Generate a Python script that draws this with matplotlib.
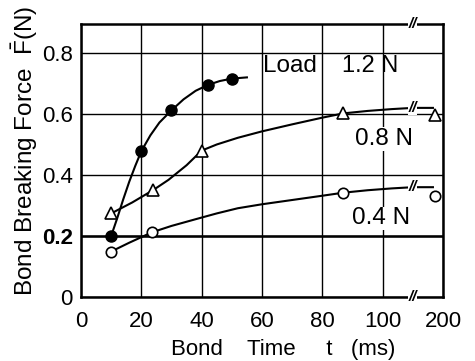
import numpy as np
import matplotlib
matplotlib.use("Agg")
from matplotlib import pyplot as plt

plt.rcParams.update({
    'font.family': ['Liberation Sans', 'DejaVu Sans'],
    'font.size': 15,
    'mathtext.fontset': 'custom',
    'mathtext.rm': 'Liberation Sans',
    'mathtext.it': 'Liberation Sans:italic',
})

# bond time (ms) / mean bond breaking force (N)
t_12 = [10, 20, 30, 42, 50]
f_12 = [0.20, 0.478, 0.612, 0.695, 0.716]
t_08 = [10, 24, 40, 87, 175]
f_08 = [0.274, 0.351, 0.48, 0.602, 0.597]
t_04 = [10, 23.5, 87, 175]
f_04 = [0.149, 0.212, 0.342, 0.331]

# hand drawn fit curves
c12_t = [10, 12, 14, 16, 18, 20, 23, 26, 30, 34, 38, 42, 46, 50, 55]
c12_f = [0.20, 0.258, 0.32, 0.378, 0.43, 0.478, 0.53, 0.572, 0.612, 0.648, 0.676, 0.695, 0.708, 0.716, 0.72]
c08_t = [10, 17, 24, 29, 35, 40, 45, 52, 60, 70, 80, 87, 95, 103, 110, 170]
c08_f = [0.274, 0.31, 0.351, 0.384, 0.432, 0.48, 0.50, 0.522, 0.543, 0.566, 0.588, 0.602, 0.610, 0.616, 0.62, 0.62]
c04_t = [10, 16, 23.5, 30, 38, 45, 52, 60, 70, 80, 87, 95, 103, 110, 170]
c04_f = [0.149, 0.178, 0.212, 0.233, 0.255, 0.274, 0.291, 0.304, 0.318, 0.332, 0.342, 0.350, 0.356, 0.36, 0.36]

x_ticks = [0, 20, 40, 60, 80, 100, 200]
y_ticks = [0, 0.2, 0.4, 0.6, 0.8]
y_labels = ['0', '0.2', '0.4', '0.6', '0.8']

BREAK = 110  # axis is broken here, 110..200 squeezed into 110..120


def fwd(t):
    t = np.asarray(t, dtype=float)
    return np.where(t <= BREAK, t, BREAK + (t - BREAK) / 9.0)


def inv(u):
    u = np.asarray(u, dtype=float)
    return np.where(u <= BREAK, u, BREAK + (u - BREAK) * 9.0)


fig = plt.figure(figsize=(4.75, 3.61), dpi=100)
ax = fig.add_axes([0.1705, 0.1773, 0.7621, 0.7562])
ax.set_xscale('function', functions=(fwd, inv))
ax.set_xlim(0, 200)
ax.set_ylim(0, 0.895)

ax.set_xticks(x_ticks)
ax.set_xticklabels([str(v) for v in x_ticks])
ax.set_yticks(y_ticks)
ax.set_yticklabels(y_labels)
ax.yaxis.get_ticklabels()[1].set_fontweight('bold')
ax.tick_params(length=0, labelsize=16)
ax.tick_params(axis='x', pad=10)
ax.tick_params(axis='y', pad=6)
ax.grid(True, color='black', lw=1.0)
ax.axhline(0.2, color='black', lw=1.8, zorder=1)
for s in ax.spines.values():
    s.set_linewidth(1.8)

ax.plot(c12_t, c12_f, color='black', lw=1.5, zorder=3)
ax.plot(c08_t, c08_f, color='black', lw=1.5, zorder=3)
ax.plot(c04_t, c04_f, color='black', lw=1.5, zorder=3)
ax.plot(t_12, f_12, 'o', ms=8, color='black', zorder=4)
ax.plot(t_08, f_08, '^', ms=8, mfc='white', mec='black', mew=1.2, zorder=4)
ax.plot(t_04, f_04, 'o', ms=7.5, mfc='white', mec='black', mew=1.2, zorder=4)

# break marks
for yb in [0, 0.895, 0.62, 0.36]:
    ax.text(BREAK, yb, '//', ha='center', va='center', fontsize=11, fontweight='bold',
            fontstyle='italic', bbox=dict(fc='white', ec='none', pad=0.2), zorder=6, clip_on=False)

box = dict(fc='white', ec='none', pad=0.5)
ax.text(60.3, 0.757, 'Load', ha='left', va='center', fontsize=17.5, zorder=5)
ax.text(86.6, 0.757, '1.2 N', ha='left', va='center', fontsize=17, zorder=5)
ax.text(90.8, 0.518, '0.8 N', ha='left', va='center', fontsize=17.5, bbox=box, zorder=5)
ax.text(89.8, 0.258, '0.4 N', ha='left', va='center', fontsize=17.5, bbox=box, zorder=5)

ax.set_xlabel('Bond    Time     t   (ms)', fontsize=16)
ax.xaxis.set_label_coords(0.558, -0.155)
ax.xaxis.label.set_va('top')
ax.set_ylabel(r'Bond Breaking Force  $\mathrm{\bar{F}}$(N)', fontsize=17.5)
ax.yaxis.set_label_coords(-0.155, 0.535)
ax.yaxis.label.set_va('center')

plt.savefig('out.png', dpi=100)
